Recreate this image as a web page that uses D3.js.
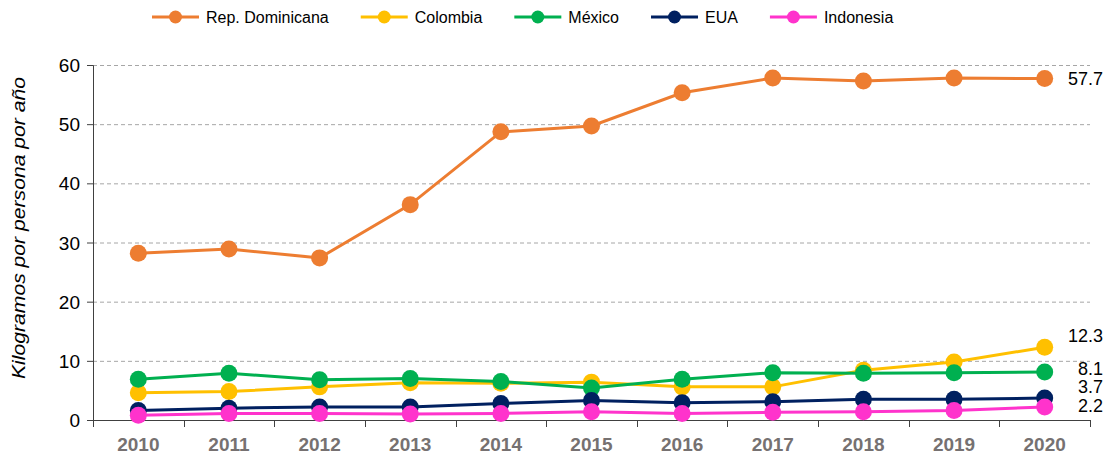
<!DOCTYPE html>
<meta charset="utf-8">
<style>
  body { margin: 0; background: #fff; }
  svg { font-family: "Liberation Sans", Arial, sans-serif; }
  .grid line { stroke: #a6a6a6; stroke-dasharray: 4,3; }
  .axis path, .axis line { stroke: #404040; }
  .y.axis text { font-size: 19px; fill: #000; }
  .x.axis text { font-size: 19px; font-weight: bold; fill: #767171; }
</style>
<body>
<script src="https://cdn.jsdelivr.net/npm/d3@7"></script>
<script>
var years = ["2010","2011","2012","2013","2014","2015","2016","2017","2018","2019","2020"];
var names = ["Rep. Dominicana","Colombia","México","EUA","Indonesia"];
var colors = ["#ED7D31","#FFC000","#00B050","#002060","#FF33CC"];
var repDom    = [28.2, 28.9, 27.4, 36.4, 48.7, 49.7, 55.3, 57.8, 57.3, 57.8, 57.7];
var colombia  = [4.6, 4.8, 5.6, 6.3, 6.2, 6.4, 5.6, 5.6, 8.4, 9.8, 12.3];
var mexico    = [6.9, 7.9, 6.8, 7.0, 6.5, 5.4, 6.9, 8.0, 7.9, 8.0, 8.1];
var eua       = [1.6, 2.0, 2.2, 2.2, 2.8, 3.3, 2.9, 3.1, 3.5, 3.5, 3.7];
var indonesia = [0.8, 1.1, 1.1, 1.0, 1.1, 1.4, 1.1, 1.3, 1.4, 1.6, 2.2];
var yTicks = [0, 10, 20, 30, 40, 50, 60];
var endLabels = ["57.7", "12.3", "8.1", "3.7", "2.2"];

var series = [repDom, colombia, mexico, eua, indonesia];

var W = 1110, H = 458;
var margin = {top: 65, right: 20, bottom: 38, left: 93};
var width = 1090 - margin.left, height = 420 - margin.top;

var svg = d3.select("body").append("svg")
  .attr("width", W).attr("height", H);

var g = svg.append("g").attr("transform", "translate(" + margin.left + "," + margin.top + ")");

var x = d3.scaleBand().domain(years).range([0, width]);
var y = d3.scaleLinear().domain([0, 60]).range([height, 0]);

// grid
g.append("g").attr("class", "grid")
  .selectAll("line").data(yTicks.filter(function(d){ return d > 0; }))
  .enter().append("line")
  .attr("x1", 0).attr("x2", width)
  .attr("y1", function(d){ return y(d) + 0.5; })
  .attr("y2", function(d){ return y(d) + 0.5; });

// y axis
var yAxis = g.append("g").attr("class", "y axis")
  .call(d3.axisLeft(y).tickValues(yTicks).tickSize(6).tickPadding(7));
yAxis.selectAll("text").attr("dy", "0.35em");

// x axis, ticks sit on the band edges
var xAxis = g.append("g").attr("class", "x axis")
  .attr("transform", "translate(0," + height + ")")
  .call(d3.axisBottom(x).tickSize(0).tickPadding(18));
xAxis.select(".domain").attr("d", "M0,0.5H" + width);
xAxis.selectAll(".bound").data(d3.range(years.length + 1))
  .enter().append("line").attr("class", "bound")
  .attr("x1", function(i){ return Math.round(i * x.step()) + 0.5; })
  .attr("x2", function(i){ return Math.round(i * x.step()) + 0.5; })
  .attr("y1", 0).attr("y2", 7)
  .attr("stroke", "#404040");

// y title
svg.append("text")
  .attr("transform", "translate(25," + (margin.top + 163) + ") rotate(-90)")
  .attr("text-anchor", "middle")
  .attr("textLength", 302).attr("lengthAdjust", "spacingAndGlyphs")
  .style("font-size", "19px").style("font-style", "italic")
  .text("Kilogramos por persona por año");

var line = d3.line()
  .x(function(d, i){ return x(years[i]) + x.bandwidth() / 2; })
  .y(function(d){ return y(d); });

series.forEach(function(s, k) {
  var sg = g.append("g");
  sg.append("path").datum(s)
    .attr("d", line)
    .attr("fill", "none")
    .attr("stroke", colors[k])
    .attr("stroke-width", 3);
  sg.selectAll("circle").data(s).enter().append("circle")
    .attr("cx", function(d, i){ return x(years[i]) + x.bandwidth() / 2; })
    .attr("cy", function(d){ return y(d); })
    .attr("r", 8.5)
    .attr("fill", colors[k]);
});

// end value labels
var labelDy = [0, -12, -3, -11, -1];
endLabels.forEach(function(t, k) {
  var v = series[k][series[k].length - 1];
  svg.append("text")
    .attr("x", 1103)
    .attr("y", margin.top + y(v) + labelDy[k])
    .attr("dy", "0.35em")
    .attr("text-anchor", "end")
    .style("font-size", "18px")
    .attr("fill", "#000")
    .text(t);
});

// legend
var legend = svg.append("g").attr("transform", "translate(0,17)");
var lx = 152;
names.forEach(function(n, k) {
  var it = legend.append("g").attr("transform", "translate(" + lx + ",0)");
  it.append("line").attr("x1", 0).attr("x2", 47).attr("y1", 0).attr("y2", 0)
    .attr("stroke", colors[k]).attr("stroke-width", 3);
  it.append("circle").attr("cx", 23.5).attr("cy", 0).attr("r", 6.5).attr("fill", colors[k]);
  var t = it.append("text").attr("x", 54).attr("dy", "0.35em")
    .style("font-size", "16px").attr("fill", "#000").text(n);
  lx += 54 + t.node().getComputedTextLength() + 32;
});
</script>
</body>
